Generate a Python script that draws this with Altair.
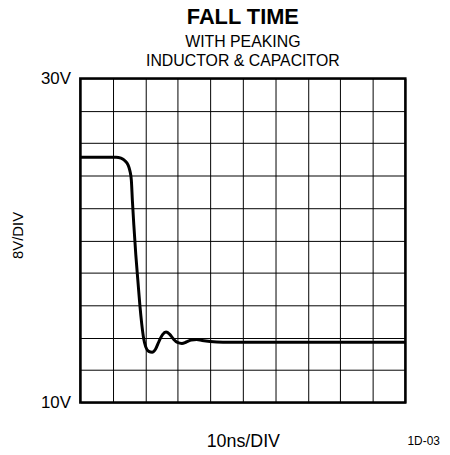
import altair as alt
import pandas as pd

# trace (time in ns, voltage in V)
time_ns = [0, 10.98, 12.50, 13.72, 14.63, 15.24, 15.70, 16.01, 16.46, 17.07,
           17.68, 18.29, 18.90, 19.51, 20.12, 21.04, 22.10, 23.17, 24.24, 25.30,
           26.37, 27.44, 28.66, 29.88, 31.25, 32.62, 34.15, 35.82, 37.50, 39.94,
           43.90, 100]
volts = [25.14, 25.14, 25.08, 24.92, 24.68, 24.31, 23.70, 22.48, 20.95, 19.11,
         17.58, 16.06, 14.83, 13.91, 13.43, 13.15, 13.09, 13.30, 13.79, 14.19,
         14.34, 14.22, 13.91, 13.70, 13.64, 13.73, 13.85, 13.88, 13.82, 13.76,
         13.72, 13.72]

x_grid = [0, 10, 20, 30, 40, 50, 60, 70, 80, 90, 100]
y_grid = [10, 12, 14, 16, 18, 20, 22, 24, 26, 28, 30]

note_text = ["1D-03"]
note_x = [100]
note_y = [10]

FONT = "Liberation Sans"

df = pd.DataFrame({"t": time_ns, "v": volts})
note_df = pd.DataFrame({"t": note_x, "v": note_y, "label": note_text})

x_scale = alt.Scale(domain=[0, 100], nice=False, zero=False)
y_scale = alt.Scale(domain=[10, 30], nice=False, zero=False)

x_axis = alt.Axis(values=x_grid, labels=False, ticks=False, domain=False,
                  grid=True, gridColor="black", gridWidth=1,
                  title="10ns/DIV", titleFont=FONT, titleFontSize=18,
                  titleFontWeight="normal", titleColor="black",
                  titleY=44, titleBaseline="alphabetic")
y_axis = alt.Axis(values=y_grid, ticks=False, domain=False,
                  grid=True, gridColor="black", gridWidth=1,
                  labelExpr="datum.value == 10 ? '10V' : (datum.value == 30 ? '30V' : '')",
                  labelFont=FONT, labelFontSize=17, labelColor="black",
                  labelPadding=10, labelBaseline="middle", labelOverlap=False,
                  title="8V/DIV", titleFont=FONT, titleFontSize=15,
                  titleFontWeight="normal", titleColor="black",
                  titleAngle=270, titleX=-63, titleY=158,
                  titleAlign="center", titleBaseline="middle")

line = alt.Chart(df).mark_line(color="black", strokeWidth=3, interpolate="monotone").encode(
    x=alt.X("t:Q", scale=x_scale, axis=x_axis),
    y=alt.Y("v:Q", scale=y_scale, axis=y_axis),
)

note = alt.Chart(note_df).mark_text(font=FONT, fontSize=12, color="black",
                                    align="center", baseline="alphabetic",
                                    dx=18.5, dy=43).encode(
    x=alt.X("t:Q", scale=x_scale, axis=x_axis),
    y=alt.Y("v:Q", scale=y_scale, axis=y_axis),
    text="label:N",
)

chart = alt.layer(line, note).properties(
    width=328,
    height=327,
    autosize=alt.AutoSizeParams(type="none"),
    padding={"left": 73, "top": 69, "right": 37, "bottom": 50},
    title=alt.Title("FALL TIME", subtitle=["WITH PEAKING", "INDUCTOR & CAPACITOR"],
                    font=FONT, fontSize=22, fontWeight="bold", color="black",
                    subtitleFont=FONT, subtitleFontSize=16, subtitleColor="black",
                    subtitleLineHeight=18.3, subtitlePadding=6,
                    anchor="middle", offset=6, dy=6),
).configure(background="white").configure_view(stroke="black", strokeWidth=2.5)

chart.save("out.html", embed_options={"renderer": "svg", "actions": False})
